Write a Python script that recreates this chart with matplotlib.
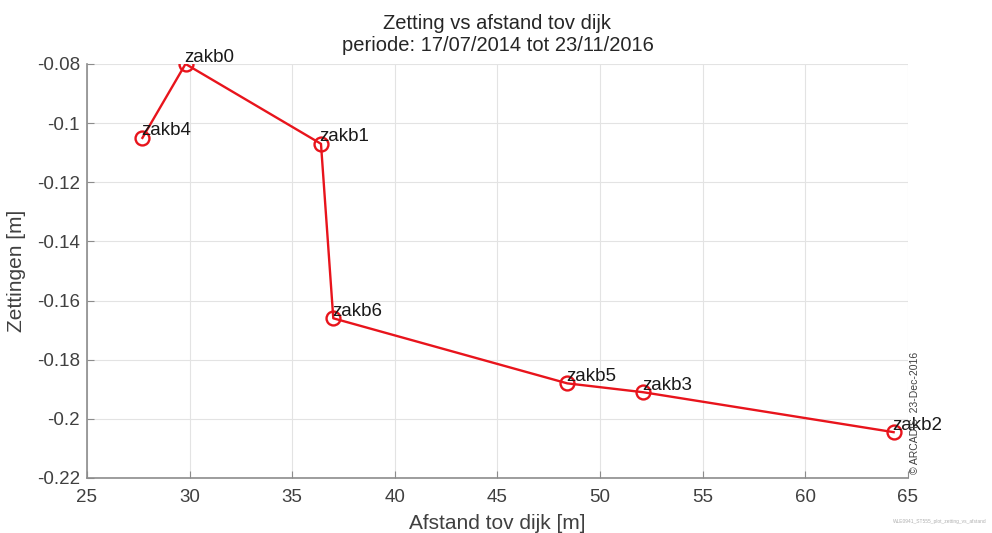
import matplotlib
matplotlib.use("Agg")
import matplotlib.pyplot as plt

plt.rcParams['font.family'] = ['Liberation Sans', 'DejaVu Sans']

# settlement points, in the order they are joined by the line
namen = ['zakb4', 'zakb0', 'zakb1', 'zakb6', 'zakb5', 'zakb3', 'zakb2']
afstand = [27.7, 29.8, 36.4, 37.0, 48.4, 52.1, 64.3]
zetting = [-0.105, -0.080, -0.107, -0.166, -0.188, -0.191, -0.2045]

xticks = [25, 30, 35, 40, 45, 50, 55, 60, 65]
yticks = [-0.22, -0.2, -0.18, -0.16, -0.14, -0.12, -0.1, -0.08]
ytick_labels = ['-0.22', '-0.2', '-0.18', '-0.16', '-0.14', '-0.12', '-0.1', '-0.08']

fig = plt.figure(figsize=(9.92, 5.33), dpi=100)
ax = fig.add_axes([0.0877, 0.1032, 0.8276, 0.7768])

ax.plot(afstand, zetting, '-', color='#e8141c', lw=1.7, zorder=3)
ax.plot(afstand, zetting, 'o', mfc='none', mec='#e8141c', mew=1.7, ms=10, zorder=4)

for n, x, y in zip(namen, afstand, zetting):
    ax.annotate(n, (x, y), xytext=(-1, 5), textcoords='offset points',
                ha='left', va='center', fontsize=13.5, color='#1a1a1a', zorder=5)

ax.set_xlim(25, 65)
ax.set_ylim(-0.22, -0.08)
ax.set_xticks(xticks)
ax.set_yticks(yticks)
ax.set_yticklabels(ytick_labels)

ax.grid(True, color='#e3e3e3', lw=0.8)
ax.set_axisbelow(True)
for s in ['top', 'right']:
    ax.spines[s].set_visible(False)
for s in ['left', 'bottom']:
    ax.spines[s].set_color('#8c8c8c')
    ax.spines[s].set_linewidth(1.2)
ax.tick_params(direction='in', length=5, color='#8c8c8c', labelsize=13.5,
               labelcolor='#404040')
ax.tick_params(axis='x', pad=8)
ax.tick_params(axis='y', pad=5)

ax.set_xlabel('Afstand tov dijk [m]', fontsize=15, color='#404040', labelpad=6)
ax.set_ylabel('Zettingen [m]', fontsize=15, color='#404040', labelpad=8)
ax.set_title('Zetting vs afstand tov dijk\nperiode: 17/07/2014 tot 23/11/2016',
             fontsize=14.5, color='#262626', pad=9, linespacing=1.25)

fig.text(0.922, 0.225, '\u00a9 ARCADIS  23-Dec-2016', rotation=90, fontsize=7.5,
         color='#404040', ha='center', va='center')
fig.text(0.995, 0.022, 'WLE0941_ST555_plot_zetting_vs_afstand', fontsize=3.5,
         color='#b0b0b0', ha='right', va='center')

fig.savefig('out.png', dpi=100)
